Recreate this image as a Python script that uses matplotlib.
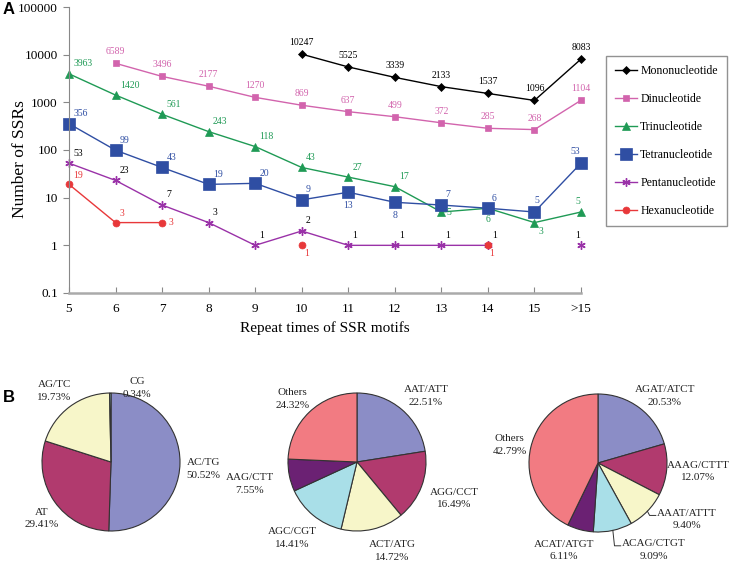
import numpy as np
import matplotlib
matplotlib.use('Agg')
import matplotlib.pyplot as plt
from matplotlib.ticker import FixedLocator, FixedFormatter, NullLocator

plt.rcParams['font.family'] = ['Liberation Serif', 'DejaVu Serif']

nan = np.nan
# ---------------- data ----------------
repeat_labels = ['5', '6', '7', '8', '9', '10', '11', '12', '13', '14', '15', '>15']
mono = [nan, nan, nan, nan, nan, 10247, 5525, 3339, 2133, 1537, 1096, 8083]
di = [nan, 6589, 3496, 2177, 1270, 869, 637, 499, 372, 285, 268, 1104]
tri = [3963, 1420, 561, 243, 118, 43, 27, 17, 5, 6, 3, 5]
tetra = [356, 99, 43, 19, 20, 9, 13, 8, 7, 6, 5, 53]
penta = [53, 23, 7, 3, 1, 2, 1, 1, 1, 1, nan, 1]
hexa = [19, 3, 3, nan, nan, 1, nan, nan, nan, 1, nan, nan]
series_names = ['Mononucleotide', 'Dinucleotide', 'Trinucleotide',
                'Tetranucleotide', 'Pentanucleotide', 'Hexanucleotide']

pie1_labels = ['AC/TG', 'AT', 'AG/TC', 'CG']
pie1_values = [50.52, 29.41, 19.73, 0.34]
pie2_labels = ['AAT/ATT', 'AGG/CCT', 'ACT/ATG', 'AGC/CGT', 'AAG/CTT', 'Others']
pie2_values = [22.51, 16.49, 14.72, 14.41, 7.55, 24.32]
pie3_labels = ['AGAT/ATCT', 'AAAG/CTTT', 'AAAT/ATTT', 'ACAG/CTGT', 'ACAT/ATGT', 'Others']
pie3_values = [20.53, 12.07, 9.40, 9.09, 6.11, 42.79]

# ---------------- styles ----------------
W, H = 736, 564
fig = plt.figure(figsize=(W / 100, H / 100), dpi=100)

c_mono, c_di, c_tri = '#000000', '#d264ad', '#1f9a55'
c_tetra, c_penta, c_hexa = '#2f4ea3', '#9a32a8', '#e8383a'

styles = [
    dict(color=c_mono, marker='D', ms=4.5, lw=1.0, lab=c_mono),
    dict(color=c_di, marker='s', ms=5, lw=1.0, lab=c_di),
    dict(color=c_tri, marker='^', ms=5.5, lw=1.0, lab=c_tri),
    dict(color=c_tetra, marker='s', ms=9, lw=1.0, lab=c_tetra),
    dict(color=c_penta, marker=(6, 2, 0), ms=6, lw=1.0, lab='#000000'),
    dict(color=c_hexa, marker='o', ms=5, lw=1.0, lab=c_hexa),
]

above_c = (0, 5, 'center', 'bottom')
above_r = (3, 4, 'left', 'bottom')
offsets = [
    (above_c, {}),
    (above_c, {}),
    (above_r, {8: (4, 0, 'left', 'center'), 9: (0, -5, 'center', 'top'),
               10: (3, -3, 'left', 'top'), 11: (-2, 4, 'center', 'bottom')}),
    (above_r, {6: (0, -6, 'center', 'top'), 7: (0, -6, 'center', 'top'),
               10: (2, 5, 'center', 'bottom'), 11: (-1, 5, 'right', 'bottom')}),
    (above_r, {11: (-1, 4, 'right', 'bottom')}),
    ((3, 3, 'left', 'bottom'), {2: (5, 0, 'left', 'center'),
                                5: (2, -3, 'left', 'top'),
                                9: (3, -3, 'center', 'top')}),
]

# ---------------- top line chart ----------------
ax = fig.add_axes([69 / W, 1 - 293 / H, (581 - 69) / W, (293 - 7) / H])
x = np.arange(len(repeat_labels))
all_series = [mono, di, tri, tetra, penta, hexa]
for name, ys, st, (dflt, exc) in zip(series_names, all_series, styles, offsets):
    ys = np.array(ys, dtype=float)
    ax.plot(x, ys, color=st['color'], marker=st['marker'], ms=st['ms'],
            lw=st['lw'], label=name, clip_on=False,
            markeredgewidth=1.0 if st['marker'] == (6, 2, 0) else 0.5)
    for i, v in enumerate(ys):
        if np.isnan(v):
            continue
        dx, dy, ha, va = exc.get(i, dflt)
        ax.annotate(f'{int(v)}', (x[i], v), xytext=(dx, dy),
                    textcoords='offset points', ha=ha, va=va,
                    fontsize=7, color=st['lab'])

ax.set_yscale('log')
ax.set_ylim(0.1, 100000)
ax.set_xlim(0, 11)
yt = [0.1, 1, 10, 100, 1000, 10000, 100000]
ax.yaxis.set_major_locator(FixedLocator(yt))
ax.yaxis.set_major_formatter(FixedFormatter(['0.1', '1', '10', '100', '1000', '10000', '100000']))
ax.yaxis.set_minor_locator(NullLocator())
ax.set_xticks(x)
ax.set_xticklabels(repeat_labels)
for s in ['top', 'right']:
    ax.spines[s].set_visible(False)
ax.spines['left'].set_color('#888888')
ax.spines['bottom'].set_color('#aaaaaa')
ax.spines['bottom'].set_linewidth(1.8)
ax.tick_params(axis='y', direction='out', length=4, color='#888888', labelsize=9.5, pad=4)
ax.tick_params(axis='x', direction='in', length=4, color='#888888', labelsize=9.5, pad=7)
ax.set_ylabel('Number of SSRs', fontsize=12.5)
ax.yaxis.set_label_coords((28 - 69) / 512, 0.47)
ax.set_xlabel('Repeat times of SSR motifs', fontsize=11, labelpad=5)

leg = fig.legend(loc='upper left', bbox_to_anchor=(606 / W, 1 - 56 / H),
                 bbox_transform=fig.transFigure, frameon=True, fancybox=False,
                 fontsize=8.5, labelspacing=1.36, handlelength=1.9,
                 handletextpad=0.25, borderpad=0.75, borderaxespad=0)
leg.get_frame().set_edgecolor('#777777')
leg.get_frame().set_linewidth(1.0)

fig.text(3 / W, 1 - 9 / H, 'A', fontsize=12, fontweight='bold',
         family='Liberation Sans', va='center')
fig.text(3 / W, 1 - 398 / H, 'B', fontsize=12, fontweight='bold',
         family='Liberation Sans', va='center')

# ---------------- pies ----------------
pie_colors = ['#8b8dc6', '#b13a6e', '#f7f6c9', '#a9dfe8', '#6b2173', '#f27b82']
R = 69
S = 240
renderer = fig.canvas.get_renderer()


def make_pie(cx, cy, labels, values, label_pos, leaders=()):
    pax = fig.add_axes([(cx - S / 2) / W, 1 - (cy + S / 2) / H, S / W, S / H])
    wedges, _ = pax.pie(values, colors=pie_colors[:len(values)], startangle=90,
                        counterclock=False, radius=1,
                        wedgeprops=dict(edgecolor='#333333', linewidth=0.8))
    lim = S / 2 / R
    pax.set_xlim(-lim, lim)
    pax.set_ylim(-lim, lim)
    pax.set_aspect('equal')
    pax.axis('off')
    for k, (lab, val, (px, py)) in enumerate(zip(labels, values, label_pos)):
        pax.text(px, py, f'{lab}\n{val:.2f}%', ha='center', va='center',
                 fontsize=8, linespacing=1.5, color='#222222')
        if k in leaders:
            t1 = pax.text(px, py, lab + '\n ', ha='center', va='center',
                          fontsize=8, linespacing=1.5, alpha=0)
            bb = t1.get_window_extent(renderer).transformed(pax.transData.inverted())
            w = wedges[k]
            th = np.deg2rad((w.theta1 + w.theta2) / 2)
            ex, ey = np.cos(th), np.sin(th)
            tx = bb.x0 - 0.02
            ty = py + 0.06
            pax.plot([ex, tx - 0.09, tx], [ey, ty, ty], color='#333333',
                     lw=0.7, clip_on=False)
    return pax


make_pie(111, 462, pie1_labels, pie1_values,
         [(1.34, -0.10), (-1.0, -0.82), (-0.82, 1.03), (0.38, 1.07)])
make_pie(357, 462, pie2_labels, pie2_values,
         [(1.0, 0.96), (1.41, -0.53), (0.51, -1.29), (-0.94, -1.10),
          (-1.55, -0.32), (-0.94, 0.91)])
make_pie(598, 463, pie3_labels, pie3_values,
         [(0.97, 0.97), (1.45, -0.12), (1.29, -0.82), (0.81, -1.26),
          (-0.49, -1.27), (-1.28, 0.26)], leaders=(2, 3))

fig.savefig('out.png', dpi=100)
